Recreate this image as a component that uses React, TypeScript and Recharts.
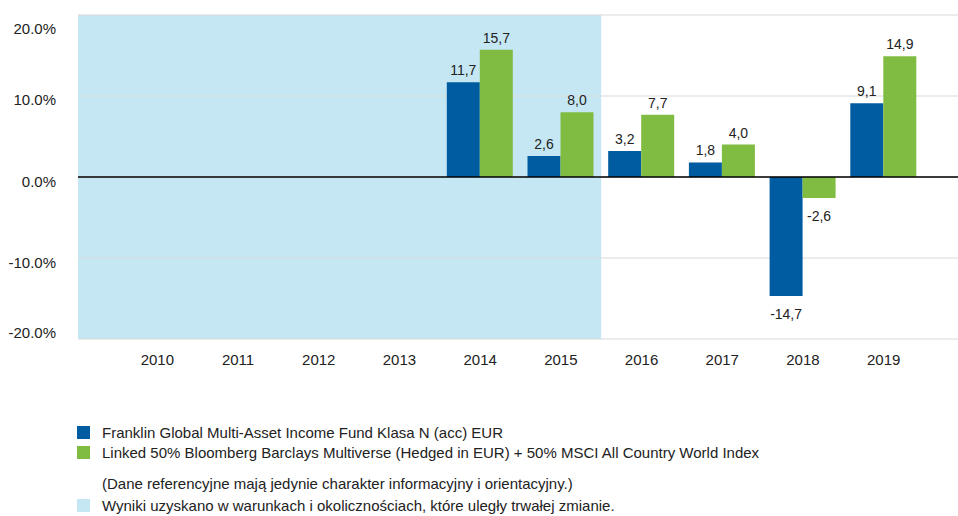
import {
  Bar,
  BarChart,
  CartesianGrid,
  LabelList,
  ReferenceArea,
  ReferenceLine,
  XAxis,
  YAxis,
} from "recharts";

const years = ["2010", "2011", "2012", "2013", "2014", "2015", "2016", "2017", "2018", "2019"];
const fundValues = [null, null, null, null, 11.7, 2.6, 3.2, 1.8, -14.7, 9.1];
const benchmarkValues = [null, null, null, null, 15.7, 8.0, 7.7, 4.0, -2.6, 14.9];
const yTicks = [-20, -10, 0, 10, 20];
const shadedUntil = "2015";

const fundName = "Franklin Global Multi-Asset Income Fund Klasa N (acc) EUR";
const benchmarkName =
  "Linked 50% Bloomberg Barclays Multiverse (Hedged in EUR) + 50% MSCI All Country World Index";
const benchmarkNote = "(Dane referencyjne mają jedynie charakter informacyjny i orientacyjny.)";
const shadedNote = "Wyniki uzyskano w warunkach i okolicznościach, które uległy trwałej zmianie.";

const data = years.map((year, i) => ({
  year,
  fund: fundValues[i],
  benchmark: benchmarkValues[i],
}));

const BLUE = "#005ca0";
const GREEN = "#80bc41";
const SHADE = "#c5e7f3";
const FONT = "'Liberation Sans', Arial, sans-serif";
const PAD_LEFT = 39;
// the original's y labels sit a little off their gridlines (bottom to top)
const Y_LABEL_SHIFT = [-6, 5, 4.5, 3.5, 14];

const fmtLabel = (v: number) => v.toFixed(1).replace(".", ",");

const ValueLabel = (props: any) => {
  const { x, y, width, height, value } = props;
  if (value == null) return null;
  const cx = x + width / 2;
  const neg = value < 0;
  // for negative bars the rect's y is its lower end
  const barEnd = neg ? Math.max(y, y + height) : Math.min(y, y + height);
  const ty = neg ? barEnd + 23 : barEnd - 7;
  return (
    <text x={cx} y={ty} textAnchor="middle" fontSize={14} fill="#222" fontFamily={FONT}>
      {fmtLabel(value)}
    </text>
  );
};

const YTick = (props: any) => {
  const { x, y, payload } = props;
  const idx = yTicks.indexOf(payload.value);
  const shift = idx >= 0 ? Y_LABEL_SHIFT[idx] : 0;
  return (
    <text
      x={x}
      y={y + shift}
      dy="0.36em"
      textAnchor="end"
      fontSize={15}
      fill="#222"
      fontFamily={FONT}
    >
      {`${payload.value.toFixed(1)}%`}
    </text>
  );
};

const ShadeShape = (props: any) => {
  const { x, y, width, height } = props;
  return <rect x={x - PAD_LEFT} y={y} width={width + PAD_LEFT} height={height} fill={SHADE} />;
};

const LegendRow = ({ color, text, top }: { color?: string; text: string; top: number }) => (
  <div style={{ position: "absolute", left: 0, top, height: 20, width: 958 }}>
    {color && (
      <div
        style={{ position: "absolute", left: 77, top: 3, width: 13, height: 13, background: color }}
      />
    )}
    <div
      style={{
        position: "absolute",
        left: 102,
        top: 0,
        lineHeight: "20px",
        fontSize: 15,
        color: "#222",
        whiteSpace: "nowrap",
      }}
    >
      {text}
    </div>
  </div>
);

export default function App() {
  return (
    <div
      style={{
        position: "absolute",
        left: 0,
        top: 0,
        width: 958,
        height: 516,
        background: "#fff",
        fontFamily: FONT,
      }}
    >
      <BarChart
        width={958}
        height={369}
        data={data}
        margin={{ top: 15, right: 0, left: 0, bottom: 0 }}
        barCategoryGap={7}
        barGap={0}
      >
        <ReferenceArea
          x1={years[0]}
          x2={shadedUntil}
          fill={SHADE}
          fillOpacity={1}
          shape={ShadeShape}
          zIndex={-200}
        />
        <CartesianGrid vertical={false} stroke="#d9d9d9" />
        <XAxis
          dataKey="year"
          axisLine={false}
          tickLine={false}
          tickSize={0}
          tickMargin={15}
          height={30}
          padding={{ left: PAD_LEFT, right: 34 }}
          tick={{ fontSize: 15, fill: "#222", fontFamily: FONT }}
        />
        <YAxis
          domain={[-20, 20]}
          ticks={yTicks}
          width={78}
          axisLine={false}
          tickLine={false}
          tickSize={0}
          tickMargin={22}
          tick={YTick}
        />
        <Bar dataKey="fund" fill={BLUE} isAnimationActive={false}>
          <LabelList dataKey="fund" content={ValueLabel} />
        </Bar>
        <Bar dataKey="benchmark" fill={GREEN} isAnimationActive={false}>
          <LabelList dataKey="benchmark" content={ValueLabel} />
        </Bar>
        <ReferenceLine y={0} stroke="#000" strokeWidth={1.3} />
      </BarChart>
      <LegendRow color={BLUE} text={fundName} top={423} />
      <LegendRow color={GREEN} text={benchmarkName} top={443} />
      <LegendRow text={benchmarkNote} top={474} />
      <LegendRow color={SHADE} text={shadedNote} top={496} />
    </div>
  );
}
